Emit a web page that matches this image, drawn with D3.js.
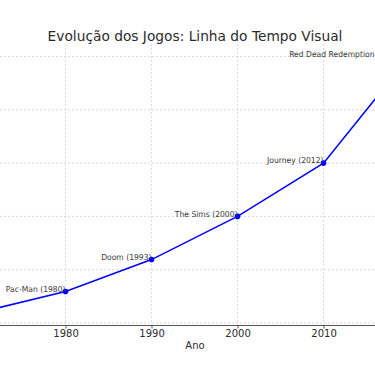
<!DOCTYPE html>
<html lang="pt">
<head>
  <meta charset="UTF-8">
  <title>Evolução dos Jogos</title>
  <script src="https://cdn.jsdelivr.net/npm/d3@7"></script>
  <style>
    body { margin: 0; background: #fff; }
    svg { font-family: "DejaVu Sans", sans-serif; display: block; }
  </style>
</head>
<body>
  <div id="chart"></div>
  <script>
    // Data (y values in grid units)
    var years = [1970, 1980, 1990, 2000, 2010, 2020];
    var values = [0.2, 0.59, 1.19, 2.0, 3.0, 5.0];
    var gameLabels = ["", "Pac-Man (1980)", "Doom (1993)", "The Sims (2000)", "Journey (2012)", "Red Dead Redemption 2 (2018)"];
    var xTicks = [1980, 1990, 2000, 2010];
    var yTicks = [0, 1, 2, 3, 4, 5];

    var width = 375, height = 366;
    var squish = 0.93; // text in the picture is slightly narrow

    var svg = d3.select("#chart")
      .append("svg")
      .attr("width", width)
      .attr("height", height);

    var x = d3.scaleLinear().domain([1980, 2010]).range([65.5, 323.5]);
    var y = d3.scaleLinear().domain([0, 5]).range([323, 56.5]);

    function place(px, py) {
      return "translate(" + px + "," + py + ") scale(" + squish + ",1)";
    }

    // Grid
    svg.append("g")
      .selectAll("line.v")
      .data(xTicks)
      .enter()
      .append("line")
      .attr("x1", d => x(d)).attr("x2", d => x(d))
      .attr("y1", 44).attr("y2", 325)
      .attr("stroke", "#d0d0d0")
      .attr("stroke-width", 0.8)
      .attr("stroke-dasharray", "2,2");

    svg.append("g")
      .selectAll("line.h")
      .data(yTicks)
      .enter()
      .append("line")
      .attr("x1", 0).attr("x2", width)
      .attr("y1", d => y(d)).attr("y2", d => y(d))
      .attr("stroke", "#d0d0d0")
      .attr("stroke-width", 0.8)
      .attr("stroke-dasharray", "2,2");

    // X axis
    var xAxis = svg.append("g")
      .attr("transform", "translate(0,325.5)")
      .call(d3.axisBottom(x).tickValues(xTicks).tickFormat(d3.format("d")).tickSize(3));
    xAxis.select(".domain").remove();
    xAxis.append("line")
      .attr("x1", 0).attr("x2", width)
      .attr("stroke", "#555").attr("stroke-width", 1.2);
    xAxis.selectAll(".tick line").attr("stroke", "#555");
    xAxis.selectAll(".tick text")
      .attr("y", null)
      .attr("dy", null)
      .attr("transform", place(0, 11.2))
      .attr("fill", "#2b2b2b")
      .style("font-size", "10.8px")
      .style("font-family", "DejaVu Sans, sans-serif");

    // Line
    var pts = years.map((d, i) => ({ year: d, value: values[i], label: gameLabels[i] }));
    var line = d3.line()
      .x(d => x(d.year))
      .y(d => y(d.value));

    svg.append("path")
      .datum(pts)
      .attr("fill", "none")
      .attr("stroke", "#0000ff")
      .attr("stroke-width", 1.5)
      .attr("d", line);

    var marked = pts.filter(d => d.label !== "");

    svg.append("g")
      .selectAll("circle")
      .data(marked)
      .enter()
      .append("circle")
      .attr("cx", d => x(d.year))
      .attr("cy", d => y(d.value))
      .attr("r", 2.8)
      .attr("fill", "#0000ff");

    svg.append("g")
      .selectAll("text")
      .data(marked)
      .enter()
      .append("text")
      .attr("transform", d => place(x(d.year), y(d.value) - 2.5))
      .attr("dy", "0.35em")
      .attr("text-anchor", "end")
      .attr("fill", "#3a3a3a")
      .style("font-size", "8.2px")
      .text(d => d.label);

    // Title and axis label
    svg.append("text")
      .attr("transform", place(195, 40.5))
      .attr("text-anchor", "middle")
      .attr("fill", "#2b2b2b")
      .style("font-size", "14.8px")
      .text("Evolução dos Jogos: Linha do Tempo Visual");

    svg.append("text")
      .attr("transform", place(195, 349.3))
      .attr("text-anchor", "middle")
      .attr("fill", "#2b2b2b")
      .style("font-size", "10.8px")
      .text("Ano");
  </script>
</body>
</html>
